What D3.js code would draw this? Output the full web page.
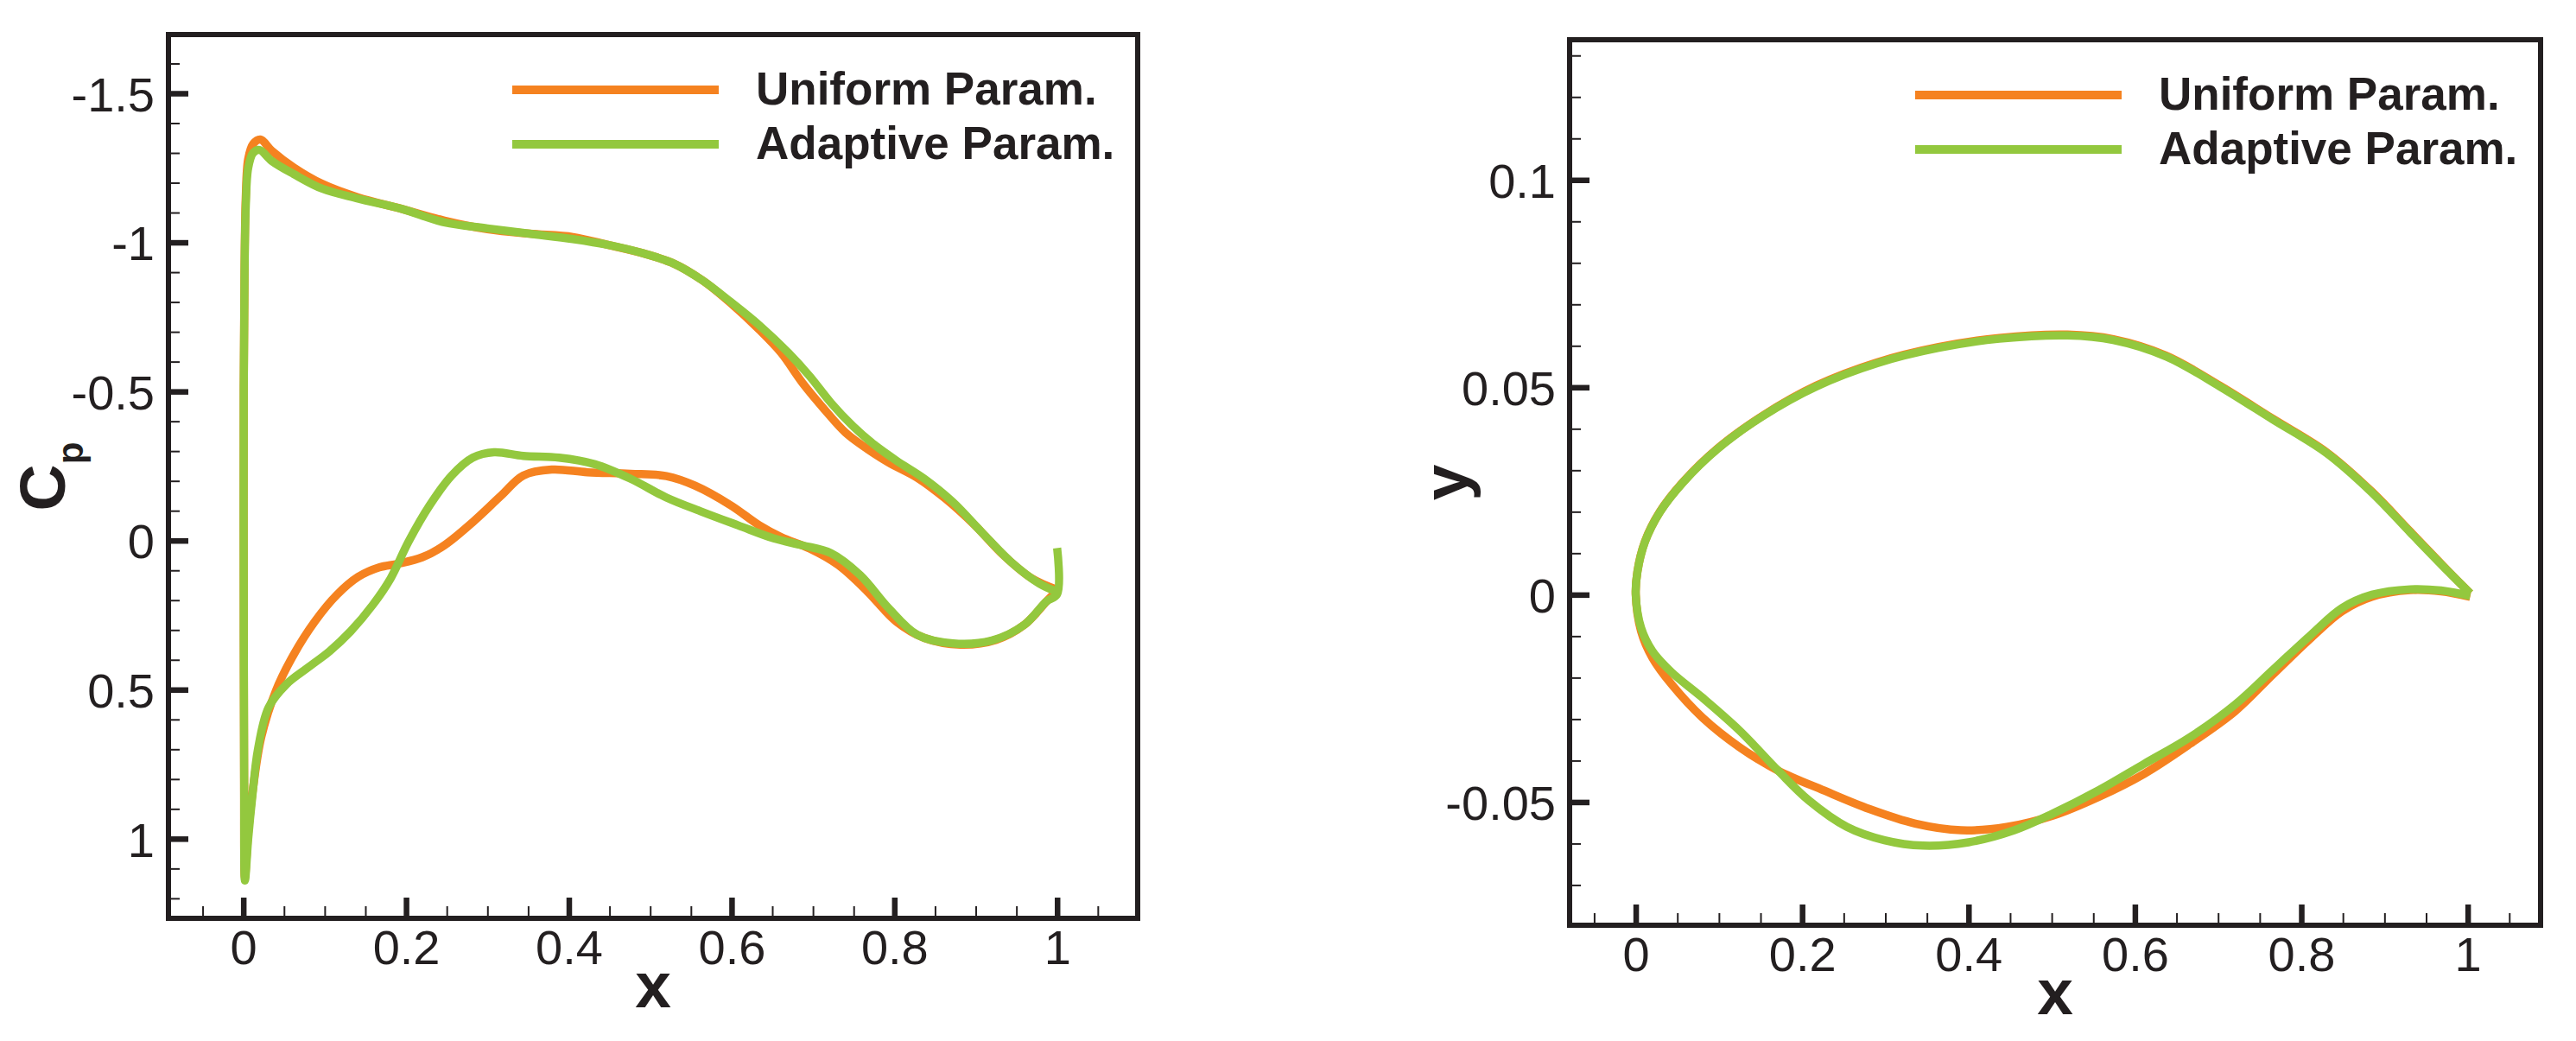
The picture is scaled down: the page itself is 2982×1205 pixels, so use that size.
<!DOCTYPE html>
<html>
<head>
<meta charset="utf-8">
<script src="https://cdn.jsdelivr.net/npm/d3@7"></script>
<style>
  body { margin: 0; background: #fff; }
  text { font-family: "Liberation Sans", Arial, sans-serif; fill: #231f20; }
</style>
</head>
<body>
<div id="chart"></div>
<script>
// ---- data ----
var seriesNames = ["Uniform Param.", "Adaptive Param."];
var seriesColors = ["#f58220", "#93c83e"];

var xTicks = [0, 0.2, 0.4, 0.6, 0.8, 1];
var cpTicks = [-1.5, -1, -0.5, 0, 0.5, 1];
var yTicks = [-0.05, 0, 0.05, 0.1];

// Cp curves: trailing edge -> upper surface -> leading edge -> lower surface -> trailing edge
var uniformCp = [
  [1.0, 0.165], [0.969, 0.127], [0.934, 0.049], [0.899, -0.051], [0.863, -0.14],
  [0.828, -0.211], [0.793, -0.262], [0.767, -0.307], [0.74, -0.362], [0.714, -0.44],
  [0.687, -0.529], [0.661, -0.629], [0.634, -0.707], [0.599, -0.796], [0.564, -0.873],
  [0.529, -0.929], [0.493, -0.962], [0.449, -0.991], [0.405, -1.018], [0.352, -1.029],
  [0.3, -1.044], [0.247, -1.073], [0.194, -1.113], [0.141, -1.151], [0.097, -1.196],
  [0.062, -1.251], [0.035, -1.307], [0.021, -1.345], [0.012, -1.33], [0.006, -1.28],
  [0.003, -1.15], [0.0015, -0.9], [0.0005, -0.5], [0.0005, 0.2], [0.001, 0.8],
  [0.002, 1.13], [0.006, 0.98], [0.012, 0.83], [0.022, 0.66], [0.04, 0.504],
  [0.062, 0.382], [0.088, 0.271], [0.115, 0.182], [0.141, 0.122], [0.167, 0.09],
  [0.19, 0.078], [0.22, 0.056], [0.247, 0.016], [0.282, -0.062], [0.317, -0.151],
  [0.344, -0.218], [0.379, -0.238], [0.423, -0.229], [0.476, -0.224], [0.52, -0.216],
  [0.555, -0.184], [0.599, -0.118], [0.634, -0.051], [0.661, -0.011], [0.696, 0.027],
  [0.731, 0.082], [0.767, 0.171], [0.802, 0.271], [0.837, 0.327], [0.881, 0.349],
  [0.925, 0.333], [0.96, 0.282], [0.987, 0.204], [1.0, 0.168]
];

var adaptiveCp = [
  [1.0, 0.172], [0.978, 0.144], [0.943, 0.071], [0.907, -0.029], [0.872, -0.129],
  [0.837, -0.207], [0.802, -0.269], [0.775, -0.322], [0.749, -0.384], [0.722, -0.462],
  [0.696, -0.551], [0.67, -0.629], [0.634, -0.722], [0.599, -0.8], [0.564, -0.873],
  [0.529, -0.929], [0.493, -0.962], [0.449, -0.991], [0.405, -1.011], [0.352, -1.029],
  [0.3, -1.047], [0.247, -1.067], [0.194, -1.113], [0.141, -1.147], [0.097, -1.18],
  [0.062, -1.229], [0.035, -1.273], [0.02, -1.31], [0.012, -1.3], [0.006, -1.25],
  [0.003, -1.12], [0.0015, -0.9], [0.0005, -0.5], [0.0005, 0.2], [0.001, 0.8],
  [0.002, 1.14], [0.006, 1.0], [0.011, 0.86], [0.018, 0.7], [0.031, 0.56],
  [0.053, 0.482], [0.079, 0.427], [0.106, 0.371], [0.132, 0.304], [0.159, 0.216],
  [0.181, 0.127], [0.203, 0.004], [0.229, -0.118], [0.256, -0.218], [0.282, -0.278],
  [0.308, -0.296], [0.344, -0.284], [0.388, -0.278], [0.432, -0.256], [0.476, -0.207],
  [0.52, -0.144], [0.564, -0.096], [0.608, -0.051], [0.652, -0.007], [0.687, 0.016],
  [0.722, 0.042], [0.758, 0.116], [0.793, 0.227], [0.828, 0.316], [0.872, 0.345],
  [0.92, 0.335], [0.96, 0.282], [0.987, 0.204], [1.0, 0.18], [1.0, 0.025]
];

// airfoil shapes: trailing edge -> upper -> leading edge -> lower -> trailing edge
var uniformShape = [
  [1.003, 0.0003], [0.977, 0.0056], [0.931, 0.0152], [0.885, 0.0248], [0.83, 0.0344],
  [0.766, 0.0424], [0.702, 0.0504], [0.638, 0.0576], [0.574, 0.0616], [0.519, 0.0627],
  [0.437, 0.0619], [0.364, 0.0597], [0.29, 0.056], [0.217, 0.0504], [0.153, 0.0432],
  [0.098, 0.0352], [0.057, 0.0272], [0.029, 0.02], [0.011, 0.0128], [0.002, 0.0056],
  [0, 0], [0.0064, -0.0088], [0.02, -0.0152], [0.043, -0.0216], [0.08, -0.0296],
  [0.125, -0.0368], [0.171, -0.0424], [0.226, -0.0472], [0.281, -0.0517], [0.336, -0.0552],
  [0.391, -0.0568], [0.446, -0.056], [0.501, -0.0533], [0.556, -0.0488], [0.611, -0.0432],
  [0.666, -0.036], [0.721, -0.028], [0.766, -0.0192], [0.812, -0.0104], [0.849, -0.004],
  [0.885, -0.0005], [0.931, 0.0011], [0.968, 0.0008], [1.003, -0.0005]
];

var adaptiveShape = [
  [1.003, 0.0003], [0.977, 0.0055], [0.931, 0.015], [0.885, 0.0246], [0.83, 0.0342],
  [0.766, 0.0422], [0.702, 0.0502], [0.638, 0.0574], [0.574, 0.0614], [0.519, 0.0625],
  [0.437, 0.0617], [0.364, 0.0595], [0.29, 0.0558], [0.217, 0.0502], [0.153, 0.0431],
  [0.098, 0.0351], [0.057, 0.0271], [0.029, 0.0199], [0.011, 0.0127], [0.002, 0.0055],
  [0, 0], [0.0064, -0.008], [0.02, -0.0136], [0.043, -0.0187], [0.08, -0.0248],
  [0.125, -0.0328], [0.171, -0.0424], [0.208, -0.0496], [0.254, -0.056], [0.299, -0.0592],
  [0.345, -0.0605], [0.4, -0.0597], [0.455, -0.0568], [0.501, -0.0528], [0.556, -0.0472],
  [0.611, -0.0408], [0.666, -0.0344], [0.721, -0.0264], [0.766, -0.0181], [0.812, -0.0096],
  [0.849, -0.0032], [0.885, 0], [0.931, 0.0013], [0.968, 0.001], [1.003, -0.0003]
];

// ---- drawing ----
var width = 2982;
var height = 1205;
var ink = "#231f20";

var svg = d3.select("#chart")
  .append("svg")
  .attr("width", width)
  .attr("height", height);

var panels = [
  {
    left: 195, right: 1317, top: 40, bottom: 1063,
    xDomain: [-0.092, 1.099], yDomain: [-1.697, 1.267],
    yTicks: cpTicks, yMinor: d3.range(-16, 13).filter(function(i){ return i % 5 != 0; }).map(function(i){ return i / 10; }),
    series: [uniformCp, adaptiveCp],
    yTitle: "C", ySub: "p", yTitleX: 75, xTitleY: 1166
  },
  {
    left: 1817, right: 2941, top: 46, bottom: 1071,
    xDomain: [-0.0795, 1.0876], yDomain: [0.1338, -0.0797],
    yTicks: yTicks, yMinor: d3.range(-7, 14).filter(function(i){ return i % 5 != 0; }).map(function(i){ return i / 100; }),
    series: [uniformShape, adaptiveShape],
    yTitle: "y", ySub: null, yTitleX: 1699, xTitleY: 1174
  }
];

var xMinor = d3.range(-1, 22).filter(function(i){ return i % 4 != 0; }).map(function(i){ return i / 20; });

panels.forEach(function(p) {
  var x = d3.scaleLinear().domain(p.xDomain).range([p.left, p.right]);
  var y = d3.scaleLinear().domain(p.yDomain).range([p.top, p.bottom]);
  var g = svg.append("g");

  // curves
  var line = d3.line()
    .x(function(d){ return x(d[0]); })
    .y(function(d){ return y(d[1]); })
    .curve(d3.curveCatmullRom.alpha(0.5));

  p.series.forEach(function(s, i) {
    g.append("path")
      .attr("d", line(s))
      .attr("fill", "none")
      .attr("stroke", seriesColors[i])
      .attr("stroke-width", 9.5)
      .attr("stroke-linejoin", "round");
  });

  // minor ticks
  var xm = g.append("g").attr("transform", "translate(0," + p.bottom + ")")
    .call(d3.axisBottom(x).tickValues(xMinor).tickSize(-14).tickFormat(""));
  var ym = g.append("g").attr("transform", "translate(" + p.left + ",0)")
    .call(d3.axisLeft(y).tickValues(p.yMinor).tickSize(-13).tickFormat(""));
  [xm, ym].forEach(function(a) {
    a.select(".domain").remove();
    a.selectAll("line").attr("stroke", ink).attr("stroke-width", 2);
  });

  // major ticks + labels
  var xa = g.append("g").attr("transform", "translate(0," + p.bottom + ")")
    .call(d3.axisBottom(x).tickValues(xTicks).tickSize(-24).tickPadding(13)
      .tickFormat(function(d){ return String(d); }));
  var ya = g.append("g").attr("transform", "translate(" + p.left + ",0)")
    .call(d3.axisLeft(y).tickValues(p.yTicks).tickSize(-23).tickPadding(16)
      .tickFormat(function(d){ return String(d); }));
  [xa, ya].forEach(function(a) {
    a.select(".domain").remove();
    a.selectAll("line").attr("stroke", ink).attr("stroke-width", 6.5);
    a.selectAll("text").attr("font-size", 56).attr("fill", ink)
      .style("font-family", "'Liberation Sans', Arial, sans-serif");
  });
  ya.selectAll("text").attr("dy", "0.36em");

  // frame
  g.append("rect")
    .attr("x", p.left).attr("y", p.top)
    .attr("width", p.right - p.left).attr("height", p.bottom - p.top)
    .attr("fill", "none").attr("stroke", ink).attr("stroke-width", 6);

  // axis titles
  g.append("text")
    .attr("x", (p.left + p.right) / 2).attr("y", p.xTitleY)
    .attr("text-anchor", "middle")
    .attr("font-size", 75).attr("font-weight", "bold")
    .text("x");

  var yt = g.append("text")
    .attr("transform", "translate(" + p.yTitleX + "," + (p.top + p.bottom) / 2 + ") rotate(-90)")
    .attr("text-anchor", "middle")
    .attr("font-size", 75).attr("font-weight", "bold");
  yt.append("tspan").text(p.yTitle);
  if (p.ySub) {
    yt.append("tspan").attr("dy", 21).attr("font-size", 42).text(p.ySub);
  }

  // legend
  var lg = g.append("g").attr("transform", "translate(" + p.right + "," + p.top + ")");
  seriesNames.forEach(function(name, i) {
    lg.append("line")
      .attr("x1", -724).attr("x2", -485)
      .attr("y1", 64 + i * 63).attr("y2", 64 + i * 63)
      .attr("stroke", seriesColors[i]).attr("stroke-width", 10);
    lg.append("text")
      .attr("x", -442).attr("y", 81 + i * 63)
      .attr("font-size", 53).attr("font-weight", "bold")
      .text(name);
  });
});
</script>
</body>
</html>
